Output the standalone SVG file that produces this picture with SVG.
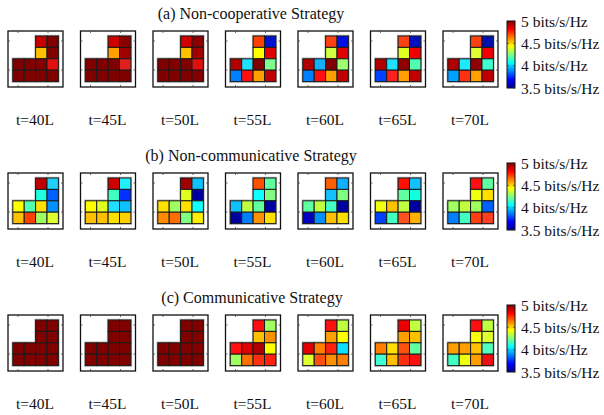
<svg xmlns="http://www.w3.org/2000/svg" xmlns:xlink="http://www.w3.org/1999/xlink" width="604" height="415" viewBox="0 0 604 415">
  <style>
    text { font-family: "Liberation Serif", "Times New Roman", serif; font-size: 15.5px; fill: #111; }
    .title { text-anchor: middle; font-size: 16px; }
    .tlab { text-anchor: middle; }
    .frame { fill: #fff; stroke: #111; stroke-width: 1.3; }
    .tick { fill: none; stroke: #444; stroke-width: 0.8; }
    .halo { fill: none; stroke: #b8b8b8; stroke-width: 2.4; }
    .cbar { stroke: #111; stroke-width: 1; }
  </style>
  <defs>
    <linearGradient id="jet" x1="0" y1="1" x2="0" y2="0">
      <stop offset="0" stop-color="#00008f"/>
      <stop offset="0.125" stop-color="#0000ff"/>
      <stop offset="0.375" stop-color="#00ffff"/>
      <stop offset="0.625" stop-color="#ffff00"/>
      <stop offset="0.875" stop-color="#ff0000"/>
      <stop offset="1" stop-color="#800000"/>
    </linearGradient>
    <!-- axes frame with small inward ticks -->
    <g id="frame">
      <rect class="frame" width="55" height="56"/>
      <path class="tick" d="M10,0v2M40,0v2M10,56v-2M40,56v-2M0,10h2M0,39h2M55,10h-2M55,39h-2"/>
    </g>
    <!-- L-shaped footprint outline under the cells -->
    <path id="halo" class="halo" d="M22.8,0H45.6V45.6H0V22.8H22.8Z"/>
    <rect id="cell" width="11.4" height="11.4" stroke="#1a1a1a" stroke-width="1"/>
    <!-- colour bar with its scale labels -->
    <g id="cbar">
      <rect class="cbar" width="8" height="67" fill="url(#jet)"/>
      <path class="tick" d="M8,0h-2M8,22.3h-2M8,44.7h-2M8,67h-2M0,22.3h2M0,44.7h2"/>
      <text x="14" y="5.5">5 bits/s/Hz</text>
      <text x="14" y="27.8">4.5 bits/s/Hz</text>
      <text x="14" y="50.2">4 bits/s/Hz</text>
      <text x="14" y="72.5">3.5 bits/s/Hz</text>
    </g>
  </defs>

  <!-- (a) non-cooperative -->
  <text class="title" x="251" y="19">(a) Non-cooperative Strategy</text>
  <g id="a-t40" transform="translate(8,31)">
    <use href="#frame"/>
    <g transform="translate(4.8,5)">
      <use href="#halo"/>
      <use href="#cell" x="22.8" y="0" fill="#c80000"/><use href="#cell" x="34.2" y="0" fill="#800000"/>
      <use href="#cell" x="22.8" y="11.4" fill="#ffc000"/><use href="#cell" x="34.2" y="11.4" fill="#800000"/>
      <use href="#cell" x="0" y="22.8" fill="#800000"/><use href="#cell" x="11.4" y="22.8" fill="#800000"/><use href="#cell" x="22.8" y="22.8" fill="#800000"/><use href="#cell" x="34.2" y="22.8" fill="#e01010"/>
      <use href="#cell" x="0" y="34.2" fill="#800000"/><use href="#cell" x="11.4" y="34.2" fill="#800000"/><use href="#cell" x="22.8" y="34.2" fill="#800000"/><use href="#cell" x="34.2" y="34.2" fill="#800000"/>
    </g>
  </g>
  <g id="a-t45" transform="translate(80.5,31)">
    <use href="#frame"/>
    <g transform="translate(4.8,5)">
      <use href="#halo"/>
      <use href="#cell" x="22.8" y="0" fill="#d00000"/><use href="#cell" x="34.2" y="0" fill="#8a0000"/>
      <use href="#cell" x="22.8" y="11.4" fill="#ffa000"/><use href="#cell" x="34.2" y="11.4" fill="#a00000"/>
      <use href="#cell" x="0" y="22.8" fill="#800000"/><use href="#cell" x="11.4" y="22.8" fill="#800000"/><use href="#cell" x="22.8" y="22.8" fill="#800000"/><use href="#cell" x="34.2" y="22.8" fill="#e02020"/>
      <use href="#cell" x="0" y="34.2" fill="#800000"/><use href="#cell" x="11.4" y="34.2" fill="#800000"/><use href="#cell" x="22.8" y="34.2" fill="#800000"/><use href="#cell" x="34.2" y="34.2" fill="#800000"/>
    </g>
  </g>
  <g id="a-t50" transform="translate(153,31)">
    <use href="#frame"/>
    <g transform="translate(4.8,5)">
      <use href="#halo"/>
      <use href="#cell" x="22.8" y="0" fill="#d00000"/><use href="#cell" x="34.2" y="0" fill="#8a0000"/>
      <use href="#cell" x="22.8" y="11.4" fill="#ffc000"/><use href="#cell" x="34.2" y="11.4" fill="#a00000"/>
      <use href="#cell" x="0" y="22.8" fill="#800000"/><use href="#cell" x="11.4" y="22.8" fill="#800000"/><use href="#cell" x="22.8" y="22.8" fill="#800000"/><use href="#cell" x="34.2" y="22.8" fill="#e01010"/>
      <use href="#cell" x="0" y="34.2" fill="#800000"/><use href="#cell" x="11.4" y="34.2" fill="#800000"/><use href="#cell" x="22.8" y="34.2" fill="#800000"/><use href="#cell" x="34.2" y="34.2" fill="#800000"/>
    </g>
  </g>
  <g id="a-t55" transform="translate(225.5,31)">
    <use href="#frame"/>
    <g transform="translate(4.8,5)">
      <use href="#halo"/>
      <use href="#cell" x="22.8" y="0" fill="#ff4000"/><use href="#cell" x="34.2" y="0" fill="#0010d0"/>
      <use href="#cell" x="22.8" y="11.4" fill="#ffff00"/><use href="#cell" x="34.2" y="11.4" fill="#e00000"/>
      <use href="#cell" x="0" y="22.8" fill="#b00000"/><use href="#cell" x="11.4" y="22.8" fill="#20e0ff"/><use href="#cell" x="22.8" y="22.8" fill="#800000"/><use href="#cell" x="34.2" y="22.8" fill="#80ff90"/>
      <use href="#cell" x="0" y="34.2" fill="#0080ff"/><use href="#cell" x="11.4" y="34.2" fill="#ff1010"/><use href="#cell" x="22.8" y="34.2" fill="#ffa000"/><use href="#cell" x="34.2" y="34.2" fill="#c00000"/>
    </g>
  </g>
  <g id="a-t60" transform="translate(298,31)">
    <use href="#frame"/>
    <g transform="translate(4.8,5)">
      <use href="#halo"/>
      <use href="#cell" x="22.8" y="0" fill="#ff4010"/><use href="#cell" x="34.2" y="0" fill="#0010e0"/>
      <use href="#cell" x="22.8" y="11.4" fill="#d0ff40"/><use href="#cell" x="34.2" y="11.4" fill="#e00000"/>
      <use href="#cell" x="0" y="22.8" fill="#b00000"/><use href="#cell" x="11.4" y="22.8" fill="#10b0ff"/><use href="#cell" x="22.8" y="22.8" fill="#800000"/><use href="#cell" x="34.2" y="22.8" fill="#a0ff70"/>
      <use href="#cell" x="0" y="34.2" fill="#0080ff"/><use href="#cell" x="11.4" y="34.2" fill="#ff1010"/><use href="#cell" x="22.8" y="34.2" fill="#ffa000"/><use href="#cell" x="34.2" y="34.2" fill="#c00000"/>
    </g>
  </g>
  <g id="a-t65" transform="translate(370.5,31)">
    <use href="#frame"/>
    <g transform="translate(4.8,5)">
      <use href="#halo"/>
      <use href="#cell" x="22.8" y="0" fill="#ff4010"/><use href="#cell" x="34.2" y="0" fill="#0010c0"/>
      <use href="#cell" x="22.8" y="11.4" fill="#e0ff20"/><use href="#cell" x="34.2" y="11.4" fill="#f00000"/>
      <use href="#cell" x="0" y="22.8" fill="#b00000"/><use href="#cell" x="11.4" y="22.8" fill="#20e0ff"/><use href="#cell" x="22.8" y="22.8" fill="#900000"/><use href="#cell" x="34.2" y="22.8" fill="#50ffb0"/>
      <use href="#cell" x="0" y="34.2" fill="#0040ff"/><use href="#cell" x="11.4" y="34.2" fill="#ff2020"/><use href="#cell" x="22.8" y="34.2" fill="#ffa000"/><use href="#cell" x="34.2" y="34.2" fill="#c00000"/>
    </g>
  </g>
  <g id="a-t70" transform="translate(443,31)">
    <use href="#frame"/>
    <g transform="translate(4.8,5)">
      <use href="#halo"/>
      <use href="#cell" x="22.8" y="0" fill="#ff4010"/><use href="#cell" x="34.2" y="0" fill="#0010b0"/>
      <use href="#cell" x="22.8" y="11.4" fill="#e0ff30"/><use href="#cell" x="34.2" y="11.4" fill="#f00000"/>
      <use href="#cell" x="0" y="22.8" fill="#b00000"/><use href="#cell" x="11.4" y="22.8" fill="#20e8ff"/><use href="#cell" x="22.8" y="22.8" fill="#900000"/><use href="#cell" x="34.2" y="22.8" fill="#40ffd0"/>
      <use href="#cell" x="0" y="34.2" fill="#00a0ff"/><use href="#cell" x="11.4" y="34.2" fill="#ff3010"/><use href="#cell" x="22.8" y="34.2" fill="#ffa000"/><use href="#cell" x="34.2" y="34.2" fill="#c00000"/>
    </g>
  </g>
  <g id="cbar-a" transform="translate(507,21)"><use href="#cbar"/></g>
  <g id="labels-a">
    <text class="tlab" x="35" y="125">t=40L</text>
    <text class="tlab" x="107.5" y="125">t=45L</text>
    <text class="tlab" x="180" y="125">t=50L</text>
    <text class="tlab" x="252.5" y="125">t=55L</text>
    <text class="tlab" x="325" y="125">t=60L</text>
    <text class="tlab" x="397.5" y="125">t=65L</text>
    <text class="tlab" x="470" y="125">t=70L</text>
  </g>

  <!-- (b) non-communicative -->
  <text class="title" x="251" y="161">(b) Non-communicative Strategy</text>
  <g id="b-t40" transform="translate(8,173)">
    <use href="#frame"/>
    <g transform="translate(4.8,5)">
      <use href="#halo"/>
      <use href="#cell" x="22.8" y="0" fill="#c00000"/><use href="#cell" x="34.2" y="0" fill="#20d0ff"/>
      <use href="#cell" x="22.8" y="11.4" fill="#20ffe0"/><use href="#cell" x="34.2" y="11.4" fill="#0060ff"/>
      <use href="#cell" x="0" y="22.8" fill="#ffff00"/><use href="#cell" x="11.4" y="22.8" fill="#50ffb0"/><use href="#cell" x="22.8" y="22.8" fill="#ffe000"/><use href="#cell" x="34.2" y="22.8" fill="#0090ff"/>
      <use href="#cell" x="0" y="34.2" fill="#ffc000"/><use href="#cell" x="11.4" y="34.2" fill="#ff4000"/><use href="#cell" x="22.8" y="34.2" fill="#a0ff60"/><use href="#cell" x="34.2" y="34.2" fill="#e0ff30"/>
    </g>
  </g>
  <g id="b-t45" transform="translate(80.5,173)">
    <use href="#frame"/>
    <g transform="translate(4.8,5)">
      <use href="#halo"/>
      <use href="#cell" x="22.8" y="0" fill="#d00000"/><use href="#cell" x="34.2" y="0" fill="#20f0ff"/>
      <use href="#cell" x="22.8" y="11.4" fill="#40ffc0"/><use href="#cell" x="34.2" y="11.4" fill="#0030ff"/>
      <use href="#cell" x="0" y="22.8" fill="#ffff00"/><use href="#cell" x="11.4" y="22.8" fill="#e0ff20"/><use href="#cell" x="22.8" y="22.8" fill="#20e0ff"/><use href="#cell" x="34.2" y="22.8" fill="#10c0ff"/>
      <use href="#cell" x="0" y="34.2" fill="#ffc000"/><use href="#cell" x="11.4" y="34.2" fill="#ffc000"/><use href="#cell" x="22.8" y="34.2" fill="#ffe000"/><use href="#cell" x="34.2" y="34.2" fill="#ffd000"/>
    </g>
  </g>
  <g id="b-t50" transform="translate(153,173)">
    <use href="#frame"/>
    <g transform="translate(4.8,5)">
      <use href="#halo"/>
      <use href="#cell" x="22.8" y="0" fill="#a00000"/><use href="#cell" x="34.2" y="0" fill="#10c0ff"/>
      <use href="#cell" x="22.8" y="11.4" fill="#e0ff20"/><use href="#cell" x="34.2" y="11.4" fill="#0000a0"/>
      <use href="#cell" x="0" y="22.8" fill="#ffe000"/><use href="#cell" x="11.4" y="22.8" fill="#a0ff60"/><use href="#cell" x="22.8" y="22.8" fill="#ffe000"/><use href="#cell" x="34.2" y="22.8" fill="#10ffff"/>
      <use href="#cell" x="0" y="34.2" fill="#ff8c00"/><use href="#cell" x="11.4" y="34.2" fill="#ff7000"/><use href="#cell" x="22.8" y="34.2" fill="#80ff80"/><use href="#cell" x="34.2" y="34.2" fill="#ffee00"/>
    </g>
  </g>
  <g id="b-t55" transform="translate(225.5,173)">
    <use href="#frame"/>
    <g transform="translate(4.8,5)">
      <use href="#halo"/>
      <use href="#cell" x="22.8" y="0" fill="#ff5000"/><use href="#cell" x="34.2" y="0" fill="#60ffa0"/>
      <use href="#cell" x="22.8" y="11.4" fill="#10ffff"/><use href="#cell" x="34.2" y="11.4" fill="#80ff80"/>
      <use href="#cell" x="0" y="22.8" fill="#10c0ff"/><use href="#cell" x="11.4" y="22.8" fill="#c0ff40"/><use href="#cell" x="22.8" y="22.8" fill="#60ffa0"/><use href="#cell" x="34.2" y="22.8" fill="#0000a0"/>
      <use href="#cell" x="0" y="34.2" fill="#0000a0"/><use href="#cell" x="11.4" y="34.2" fill="#0080ff"/><use href="#cell" x="22.8" y="34.2" fill="#ff9000"/><use href="#cell" x="34.2" y="34.2" fill="#ffe000"/>
    </g>
  </g>
  <g id="b-t60" transform="translate(298,173)">
    <use href="#frame"/>
    <g transform="translate(4.8,5)">
      <use href="#halo"/>
      <use href="#cell" x="22.8" y="0" fill="#ff6000"/><use href="#cell" x="34.2" y="0" fill="#10b0ff"/>
      <use href="#cell" x="22.8" y="11.4" fill="#10c0ff"/><use href="#cell" x="34.2" y="11.4" fill="#80ff80"/>
      <use href="#cell" x="0" y="22.8" fill="#60ffa0"/><use href="#cell" x="11.4" y="22.8" fill="#c0ff40"/><use href="#cell" x="22.8" y="22.8" fill="#40ffc0"/><use href="#cell" x="34.2" y="22.8" fill="#0000a0"/>
      <use href="#cell" x="0" y="34.2" fill="#0000c0"/><use href="#cell" x="11.4" y="34.2" fill="#0090ff"/><use href="#cell" x="22.8" y="34.2" fill="#ffc000"/><use href="#cell" x="34.2" y="34.2" fill="#ffe000"/>
    </g>
  </g>
  <g id="b-t65" transform="translate(370.5,173)">
    <use href="#frame"/>
    <g transform="translate(4.8,5)">
      <use href="#halo"/>
      <use href="#cell" x="22.8" y="0" fill="#ff1000"/><use href="#cell" x="34.2" y="0" fill="#10c0ff"/>
      <use href="#cell" x="22.8" y="11.4" fill="#60ffa0"/><use href="#cell" x="34.2" y="11.4" fill="#10ffe0"/>
      <use href="#cell" x="0" y="22.8" fill="#f0ff10"/><use href="#cell" x="11.4" y="22.8" fill="#ffc000"/><use href="#cell" x="22.8" y="22.8" fill="#c0ff40"/><use href="#cell" x="34.2" y="22.8" fill="#0000a0"/>
      <use href="#cell" x="0" y="34.2" fill="#0040ff"/><use href="#cell" x="11.4" y="34.2" fill="#40ffc0"/><use href="#cell" x="22.8" y="34.2" fill="#ff5020"/><use href="#cell" x="34.2" y="34.2" fill="#ffb000"/>
    </g>
  </g>
  <g id="b-t70" transform="translate(443,173)">
    <use href="#frame"/>
    <g transform="translate(4.8,5)">
      <use href="#halo"/>
      <use href="#cell" x="22.8" y="0" fill="#ff1010"/><use href="#cell" x="34.2" y="0" fill="#60ffa0"/>
      <use href="#cell" x="22.8" y="11.4" fill="#f0ff10"/><use href="#cell" x="34.2" y="11.4" fill="#ffe000"/>
      <use href="#cell" x="0" y="22.8" fill="#a0ff60"/><use href="#cell" x="11.4" y="22.8" fill="#c0ff40"/><use href="#cell" x="22.8" y="22.8" fill="#a0ff60"/><use href="#cell" x="34.2" y="22.8" fill="#0060ff"/>
      <use href="#cell" x="0" y="34.2" fill="#0080ff"/><use href="#cell" x="11.4" y="34.2" fill="#40ffc0"/><use href="#cell" x="22.8" y="34.2" fill="#ff4010"/><use href="#cell" x="34.2" y="34.2" fill="#ff4020"/>
    </g>
  </g>
  <g id="cbar-b" transform="translate(507,163)"><use href="#cbar"/></g>
  <g id="labels-b">
    <text class="tlab" x="35" y="267">t=40L</text>
    <text class="tlab" x="107.5" y="267">t=45L</text>
    <text class="tlab" x="180" y="267">t=50L</text>
    <text class="tlab" x="252.5" y="267">t=55L</text>
    <text class="tlab" x="325" y="267">t=60L</text>
    <text class="tlab" x="397.5" y="267">t=65L</text>
    <text class="tlab" x="470" y="267">t=70L</text>
  </g>

  <!-- (c) communicative -->
  <text class="title" x="252" y="303">(c) Communicative Strategy</text>
  <g id="c-t40" transform="translate(8,315)">
    <use href="#frame"/>
    <g transform="translate(4.8,5)" fill="#800000">
      <use href="#halo"/>
      <use href="#cell" x="22.8" y="0"/><use href="#cell" x="34.2" y="0"/>
      <use href="#cell" x="22.8" y="11.4"/><use href="#cell" x="34.2" y="11.4"/>
      <use href="#cell" x="0" y="22.8"/><use href="#cell" x="11.4" y="22.8"/><use href="#cell" x="22.8" y="22.8"/><use href="#cell" x="34.2" y="22.8"/>
      <use href="#cell" x="0" y="34.2"/><use href="#cell" x="11.4" y="34.2"/><use href="#cell" x="22.8" y="34.2"/><use href="#cell" x="34.2" y="34.2"/>
    </g>
  </g>
  <g id="c-t45" transform="translate(80.5,315)">
    <use href="#frame"/>
    <g transform="translate(4.8,5)" fill="#800000">
      <use href="#halo"/>
      <use href="#cell" x="22.8" y="0"/><use href="#cell" x="34.2" y="0"/>
      <use href="#cell" x="22.8" y="11.4"/><use href="#cell" x="34.2" y="11.4"/>
      <use href="#cell" x="0" y="22.8"/><use href="#cell" x="11.4" y="22.8"/><use href="#cell" x="22.8" y="22.8"/><use href="#cell" x="34.2" y="22.8"/>
      <use href="#cell" x="0" y="34.2"/><use href="#cell" x="11.4" y="34.2"/><use href="#cell" x="22.8" y="34.2"/><use href="#cell" x="34.2" y="34.2"/>
    </g>
  </g>
  <g id="c-t50" transform="translate(153,315)">
    <use href="#frame"/>
    <g transform="translate(4.8,5)" fill="#800000">
      <use href="#halo"/>
      <use href="#cell" x="22.8" y="0"/><use href="#cell" x="34.2" y="0"/>
      <use href="#cell" x="22.8" y="11.4"/><use href="#cell" x="34.2" y="11.4"/>
      <use href="#cell" x="0" y="22.8"/><use href="#cell" x="11.4" y="22.8"/><use href="#cell" x="22.8" y="22.8"/><use href="#cell" x="34.2" y="22.8"/>
      <use href="#cell" x="0" y="34.2"/><use href="#cell" x="11.4" y="34.2"/><use href="#cell" x="22.8" y="34.2"/><use href="#cell" x="34.2" y="34.2"/>
    </g>
  </g>
  <g id="c-t55" transform="translate(225.5,315)">
    <use href="#frame"/>
    <g transform="translate(4.8,5)">
      <use href="#halo"/>
      <use href="#cell" x="22.8" y="0" fill="#ff1010"/><use href="#cell" x="34.2" y="0" fill="#a0ff60"/>
      <use href="#cell" x="22.8" y="11.4" fill="#ffc000"/><use href="#cell" x="34.2" y="11.4" fill="#ff9000"/>
      <use href="#cell" x="0" y="22.8" fill="#ff1010"/><use href="#cell" x="11.4" y="22.8" fill="#e00000"/><use href="#cell" x="22.8" y="22.8" fill="#b00000"/><use href="#cell" x="34.2" y="22.8" fill="#ffff00"/>
      <use href="#cell" x="0" y="34.2" fill="#a0ff60"/><use href="#cell" x="11.4" y="34.2" fill="#ff7000"/><use href="#cell" x="22.8" y="34.2" fill="#ff3010"/><use href="#cell" x="34.2" y="34.2" fill="#ff2010"/>
    </g>
  </g>
  <g id="c-t60" transform="translate(298,315)">
    <use href="#frame"/>
    <g transform="translate(4.8,5)">
      <use href="#halo"/>
      <use href="#cell" x="22.8" y="0" fill="#ff1010"/><use href="#cell" x="34.2" y="0" fill="#c0ff40"/>
      <use href="#cell" x="22.8" y="11.4" fill="#ffa000"/><use href="#cell" x="34.2" y="11.4" fill="#ffff00"/>
      <use href="#cell" x="0" y="22.8" fill="#e00000"/><use href="#cell" x="11.4" y="22.8" fill="#ff8000"/><use href="#cell" x="22.8" y="22.8" fill="#ff2010"/><use href="#cell" x="34.2" y="22.8" fill="#10e0ff"/>
      <use href="#cell" x="0" y="34.2" fill="#e0ff30"/><use href="#cell" x="11.4" y="34.2" fill="#ff5010"/><use href="#cell" x="22.8" y="34.2" fill="#ff9000"/><use href="#cell" x="34.2" y="34.2" fill="#ff8000"/>
    </g>
  </g>
  <g id="c-t65" transform="translate(370.5,315)">
    <use href="#frame"/>
    <g transform="translate(4.8,5)">
      <use href="#halo"/>
      <use href="#cell" x="22.8" y="0" fill="#ee0000"/><use href="#cell" x="34.2" y="0" fill="#c0ff40"/>
      <use href="#cell" x="22.8" y="11.4" fill="#ffa000"/><use href="#cell" x="34.2" y="11.4" fill="#ffc000"/>
      <use href="#cell" x="0" y="22.8" fill="#ff8000"/><use href="#cell" x="11.4" y="22.8" fill="#ffe000"/><use href="#cell" x="22.8" y="22.8" fill="#ff5010"/><use href="#cell" x="34.2" y="22.8" fill="#60ffa0"/>
      <use href="#cell" x="0" y="34.2" fill="#40ffd0"/><use href="#cell" x="11.4" y="34.2" fill="#ffc000"/><use href="#cell" x="22.8" y="34.2" fill="#ff3010"/><use href="#cell" x="34.2" y="34.2" fill="#ff1010"/>
    </g>
  </g>
  <g id="c-t70" transform="translate(443,315)">
    <use href="#frame"/>
    <g transform="translate(4.8,5)">
      <use href="#halo"/>
      <use href="#cell" x="22.8" y="0" fill="#ff1010"/><use href="#cell" x="34.2" y="0" fill="#c0ff40"/>
      <use href="#cell" x="22.8" y="11.4" fill="#ffff10"/><use href="#cell" x="34.2" y="11.4" fill="#e0ff30"/>
      <use href="#cell" x="0" y="22.8" fill="#ffa000"/><use href="#cell" x="11.4" y="22.8" fill="#ffa000"/><use href="#cell" x="22.8" y="22.8" fill="#ffc000"/><use href="#cell" x="34.2" y="22.8" fill="#50ffc0"/>
      <use href="#cell" x="0" y="34.2" fill="#40ffc0"/><use href="#cell" x="11.4" y="34.2" fill="#f0ff10"/><use href="#cell" x="22.8" y="34.2" fill="#ffa000"/><use href="#cell" x="34.2" y="34.2" fill="#ee1010"/>
    </g>
  </g>
  <g id="cbar-c" transform="translate(507,305)"><use href="#cbar"/></g>
  <g id="labels-c">
    <text class="tlab" x="35" y="409">t=40L</text>
    <text class="tlab" x="107.5" y="409">t=45L</text>
    <text class="tlab" x="180" y="409">t=50L</text>
    <text class="tlab" x="252.5" y="409">t=55L</text>
    <text class="tlab" x="325" y="409">t=60L</text>
    <text class="tlab" x="397.5" y="409">t=65L</text>
    <text class="tlab" x="470" y="409">t=70L</text>
  </g>
</svg>
